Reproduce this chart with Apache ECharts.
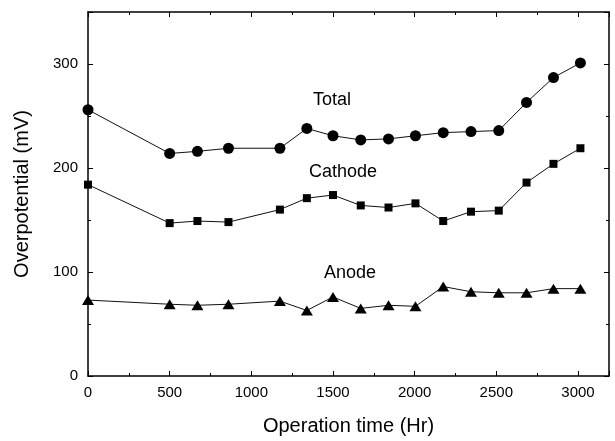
<!DOCTYPE html>
<html>
<head>
<meta charset="utf-8">
<script src="https://cdn.jsdelivr.net/npm/echarts@6/dist/echarts.min.js"></script>
<style>html,body{margin:0;padding:0;background:#fff;}#c{width:615px;height:441px;}</style>
</head>
<body>
<div id="c"></div>
<script>
var timeHr = [0, 500, 670, 860, 1175, 1340, 1500, 1670, 1840, 2005, 2175, 2345, 2515, 2685, 2850, 3015];
var totalMV = [256, 214, 216, 219, 219, 238, 231, 227, 228, 231, 234, 235, 236, 263, 287, 301];
var cathodeMV = [184, 147, 149, 148, 160, 171, 174, 164, 162, 166, 149, 158, 159, 186, 204, 219];
var anodeMV = [73, 69, 68, 69, 72, 63, 76, 65, 68, 67, 86, 81, 80, 80, 84, 84];
var labelNames = ['Total', 'Cathode', 'Anode'];
var labelX = [1494, 1561, 1604];
var labelY = [265, 196, 99];

function pairs(xs, ys) { return xs.map(function (x, i) { return [x, ys[i]]; }); }

var font = 'Liberation Sans, Arial, sans-serif';
function axisCommon() {
  return {
    axisLine: { show: true, onZero: false, lineStyle: { color: '#000', width: 1.5 } },
    axisTick: { show: true, inside: true, length: 5, lineStyle: { color: '#000', width: 1 } },
    minorTick: { show: true, splitNumber: 2, length: 3, lineStyle: { color: '#000', width: 1 } },
    splitLine: { show: false }
  };
}
function plain(v) { return String(v); }

var chart = echarts.init(document.getElementById('c'));
var lineStyle = { color: '#111', width: 1 };
chart.setOption({
  animation: false,
  backgroundColor: '#fff',
  grid: { left: 88, right: 6, top: 12, bottom: 61 },
  xAxis: [
    Object.assign({
      type: 'value', min: 0, max: 3190, interval: 500, position: 'bottom',
      name: 'Operation time (Hr)', nameLocation: 'middle', nameGap: 40,
      nameTextStyle: { fontFamily: font, fontSize: 20, color: '#000' },
      axisLabel: { fontFamily: font, fontSize: 15, color: '#000', margin: 9, showMaxLabel: false, formatter: plain }
    }, axisCommon()),
    Object.assign({
      type: 'value', min: 0, max: 3190, interval: 500, position: 'top',
      axisLabel: { show: false }
    }, axisCommon())
  ],
  yAxis: [
    Object.assign({
      type: 'value', min: 0, max: 350, interval: 100, position: 'left',
      name: 'Overpotential (mV)', nameLocation: 'middle', nameGap: 56,
      nameTextStyle: { fontFamily: font, fontSize: 20, color: '#000' },
      axisLabel: { fontFamily: font, fontSize: 15, color: '#000', margin: 10, showMaxLabel: false, formatter: plain }
    }, axisCommon()),
    Object.assign({
      type: 'value', min: 0, max: 350, interval: 100, position: 'right',
      axisLabel: { show: false }
    }, axisCommon())
  ],
  series: [
    {
      type: 'line', name: 'Total', data: pairs(timeHr, totalMV),
      symbol: 'circle', symbolSize: 11, lineStyle: lineStyle, itemStyle: { color: '#000' },
      markPoint: {
        symbol: 'circle', symbolSize: 0,
        label: { show: true, position: 'inside', fontFamily: font, fontSize: 18, color: '#000', formatter: '{b}' },
        data: labelNames.map(function (n, i) { return { name: n, coord: [labelX[i], labelY[i]] }; })
      }
    },
    {
      type: 'line', name: 'Cathode', data: pairs(timeHr, cathodeMV),
      symbol: 'rect', symbolSize: 8, lineStyle: lineStyle, itemStyle: { color: '#000' }
    },
    {
      type: 'line', name: 'Anode', data: pairs(timeHr, anodeMV),
      symbol: 'triangle', symbolSize: [12, 10], lineStyle: lineStyle, itemStyle: { color: '#000' }
    }
  ]
});
</script>
</body>
</html>
